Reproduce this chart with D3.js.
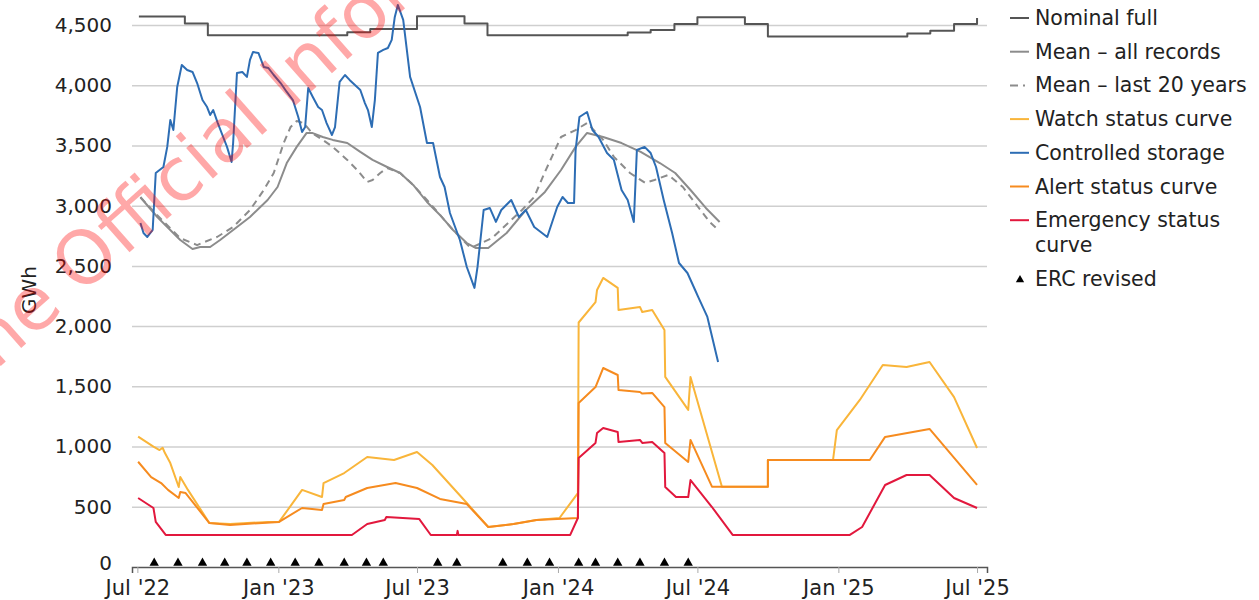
<!DOCTYPE html>
<html>
<head>
<meta charset="utf-8">
<script src="https://cdn.jsdelivr.net/npm/d3@7"></script>
<style>
  body { margin: 0; background: #fff; }
  svg { font-family: "DejaVu Sans", sans-serif; }
</style>
</head>
<body>
<div class="chart"></div>
<script>
// data (GWh)
const nominalFull = [
  ["2022-07-03", 4570], ["2022-09-01", 4512], ["2022-10-01", 4415],
  ["2023-04-01", 4440], ["2023-05-01", 4466], ["2023-07-01", 4572],
  ["2023-09-01", 4512], ["2023-10-01", 4415], ["2024-04-01", 4437],
  ["2024-05-01", 4458], ["2024-06-01", 4508], ["2024-07-01", 4565],
  ["2024-09-01", 4508], ["2024-10-01", 4405], ["2025-04-01", 4430],
  ["2025-05-01", 4452], ["2025-06-01", 4508], ["2025-07-01", 4558]
];

const meanAll = [
  ["2022-07-05", 3070], ["2022-07-27", 2906], ["2022-08-09", 2823], ["2022-08-26", 2715],
  ["2022-09-11", 2640], ["2022-09-21", 2657], ["2022-10-04", 2657], ["2022-10-17", 2715],
  ["2022-11-03", 2798], ["2022-11-25", 2906], ["2022-12-18", 3047], ["2022-12-31", 3155],
  ["2023-01-12", 3354], ["2023-01-25", 3488], ["2023-02-07", 3604], ["2023-02-14", 3604],
  ["2023-02-28", 3570], ["2023-03-13", 3546], ["2023-04-01", 3520], ["2023-04-18", 3446],
  ["2023-05-04", 3380], ["2023-05-23", 3321], ["2023-06-09", 3271], ["2023-06-26", 3172],
  ["2023-07-14", 3031], ["2023-07-31", 2923], ["2023-08-17", 2798], ["2023-09-04", 2690],
  ["2023-09-16", 2648], ["2023-10-02", 2648], ["2023-10-26", 2773], ["2023-11-20", 2964],
  ["2023-12-15", 3114], ["2024-01-05", 3296], ["2024-01-24", 3488], ["2024-02-08", 3604],
  ["2024-02-29", 3570], ["2024-03-24", 3520], ["2024-04-18", 3446], ["2024-05-13", 3354],
  ["2024-06-02", 3271], ["2024-06-22", 3130], ["2024-07-12", 2981], ["2024-07-30", 2865]
];

const meanLast20 = [
  ["2022-07-05", 3070], ["2022-07-27", 2920], ["2022-08-26", 2730], ["2022-09-17", 2673],
  ["2022-10-13", 2740], ["2022-11-03", 2823], ["2022-11-25", 2964], ["2022-12-13", 3130],
  ["2022-12-26", 3271], ["2023-01-08", 3520], ["2023-01-17", 3653], ["2023-01-25", 3703],
  ["2023-02-03", 3686], ["2023-02-14", 3604], ["2023-02-28", 3546], ["2023-03-13", 3488],
  ["2023-04-01", 3380], ["2023-04-14", 3296], ["2023-04-27", 3197], ["2023-05-04", 3213],
  ["2023-05-14", 3271], ["2023-05-23", 3313], ["2023-06-09", 3271], ["2023-06-26", 3172],
  ["2023-07-14", 3047], ["2023-07-31", 2923], ["2023-08-17", 2798], ["2023-09-09", 2648],
  ["2023-10-07", 2731], ["2023-11-15", 2964], ["2023-12-01", 3072], ["2023-12-15", 3280],
  ["2024-01-05", 3570], ["2024-01-24", 3628], ["2024-02-08", 3686], ["2024-02-29", 3546],
  ["2024-03-14", 3405], ["2024-04-04", 3271], ["2024-04-24", 3189], ["2024-05-06", 3213],
  ["2024-05-24", 3255], ["2024-06-12", 3155], ["2024-07-02", 2989], ["2024-07-17", 2865],
  ["2024-07-27", 2806]
];

const controlledStorage = [
  ["2022-07-05", 2856], ["2022-07-09", 2773], ["2022-07-14", 2740], ["2022-07-21", 2798],
  ["2022-07-25", 3271], ["2022-08-04", 3321], ["2022-08-09", 3488], ["2022-08-13", 3711],
  ["2022-08-17", 3628], ["2022-08-22", 3985], ["2022-08-28", 4168], ["2022-09-04", 4126],
  ["2022-09-11", 4110], ["2022-09-17", 4018], ["2022-09-24", 3877], ["2022-09-30", 3819],
  ["2022-10-04", 3753], ["2022-10-08", 3794], ["2022-10-14", 3686], ["2022-10-21", 3570],
  ["2022-10-26", 3488], ["2022-11-01", 3363], ["2022-11-03", 3520], ["2022-11-08", 4102],
  ["2022-11-15", 4110], ["2022-11-21", 4069], ["2022-11-25", 4210], ["2022-11-29", 4276],
  ["2022-12-06", 4268], ["2022-12-13", 4152], ["2022-12-19", 4143], ["2022-12-26", 4085],
  ["2023-01-04", 4018], ["2023-01-12", 3944], ["2023-01-20", 3877], ["2023-01-27", 3736],
  ["2023-02-01", 3612], ["2023-02-05", 3653], ["2023-02-09", 3977], ["2023-02-15", 3902],
  ["2023-02-22", 3819], ["2023-02-27", 3794], ["2023-03-05", 3686], ["2023-03-12", 3587],
  ["2023-03-16", 3653], ["2023-03-22", 4027], ["2023-03-29", 4085], ["2023-04-04", 4044],
  ["2023-04-11", 4002], ["2023-04-18", 3960], ["2023-04-24", 3852], ["2023-04-28", 3794],
  ["2023-05-03", 3653], ["2023-05-07", 3877], ["2023-05-11", 4268], ["2023-05-18", 4293],
  ["2023-05-24", 4309], ["2023-05-29", 4376], ["2023-06-02", 4567], ["2023-06-06", 4666],
  ["2023-06-13", 4542], ["2023-06-22", 4069], ["2023-07-05", 3819], ["2023-07-14", 3520],
  ["2023-07-22", 3520], ["2023-07-31", 3238], ["2023-08-06", 3155], ["2023-08-13", 2939],
  ["2023-08-26", 2715], ["2023-09-04", 2491], ["2023-09-14", 2317], ["2023-09-18", 2491],
  ["2023-09-26", 2964], ["2023-10-04", 2981], ["2023-10-12", 2865], ["2023-10-19", 2964],
  ["2023-11-01", 3047], ["2023-11-11", 2906], ["2023-11-20", 2964], ["2023-12-01", 2823],
  ["2023-12-18", 2740], ["2023-12-31", 2989], ["2024-01-07", 3072], ["2024-01-14", 3022],
  ["2024-01-22", 3022], ["2024-01-24", 3462], ["2024-01-29", 3736], ["2024-02-08", 3778],
  ["2024-02-15", 3628], ["2024-02-23", 3570], ["2024-03-05", 3437], ["2024-03-14", 3380],
  ["2024-03-24", 3130], ["2024-04-01", 3047], ["2024-04-09", 2865], ["2024-04-13", 3462],
  ["2024-04-23", 3488], ["2024-05-01", 3437], ["2024-05-08", 3321], ["2024-05-18", 3047],
  ["2024-05-29", 2773], ["2024-06-07", 2524], ["2024-06-18", 2441], ["2024-06-28", 2300],
  ["2024-07-02", 2242], ["2024-07-14", 2076], ["2024-07-28", 1702]
];

const watchCurve = [
  ["2022-07-02", 1082], ["2022-07-22", 999], ["2022-07-30", 971], ["2022-08-03", 990],
  ["2022-08-06", 946], ["2022-08-13", 863], ["2022-08-24", 664], ["2022-08-26", 747],
  ["2022-09-05", 640], ["2022-10-03", 365], ["2022-10-30", 357], ["2022-12-19", 374],
  ["2023-01-02", 374], ["2023-02-01", 640], ["2023-02-27", 581], ["2023-03-01", 697],
  ["2023-03-28", 780], ["2023-04-27", 913], ["2023-06-01", 888], ["2023-07-01", 955],
  ["2023-07-21", 847], ["2023-09-04", 531], ["2023-10-02", 332], ["2023-11-04", 357],
  ["2023-12-04", 390], ["2024-01-03", 407], ["2024-01-27", 614], ["2024-01-28", 2030],
  ["2024-02-19", 2200], ["2024-02-21", 2300], ["2024-02-29", 2400], ["2024-03-19", 2317],
  ["2024-03-20", 2134], ["2024-04-17", 2159], ["2024-04-20", 2117], ["2024-05-03", 2134],
  ["2024-05-19", 1968], ["2024-05-20", 1578], ["2024-06-19", 1304], ["2024-06-22", 1578],
  ["2024-08-02", 667], ["2024-10-01", 667], ["2024-10-01", 888], ["2024-12-25", 888],
  ["2024-12-30", 1137], ["2025-01-29", 1387], ["2025-02-28", 1677], ["2025-03-31", 1661],
  ["2025-04-30", 1702], ["2025-06-01", 1411], ["2025-07-01", 988]
];

const alertCurve = [
  ["2022-07-02", 874], ["2022-07-19", 747], ["2022-08-01", 697], ["2022-08-10", 640],
  ["2022-08-24", 573], ["2022-08-26", 623], ["2022-09-02", 614], ["2022-10-03", 365],
  ["2022-10-30", 349], ["2023-01-02", 374], ["2023-02-01", 490], ["2023-02-27", 473],
  ["2023-03-01", 523], ["2023-03-28", 556], ["2023-03-30", 581], ["2023-04-27", 656],
  ["2023-06-03", 697], ["2023-07-01", 656], ["2023-07-31", 565], ["2023-09-04", 523],
  ["2023-10-02", 332], ["2023-11-04", 357], ["2023-12-04", 390], ["2024-01-27", 407],
  ["2024-01-28", 1362], ["2024-02-19", 1494], ["2024-02-29", 1652], ["2024-03-19", 1594],
  ["2024-03-20", 1470], ["2024-04-17", 1453], ["2024-04-20", 1440], ["2024-05-03", 1445],
  ["2024-05-19", 1328], ["2024-05-20", 1030], ["2024-06-19", 872], ["2024-06-22", 1055],
  ["2024-07-20", 667], ["2024-10-01", 667], ["2024-10-01", 888], ["2025-02-11", 888],
  ["2025-03-03", 1080], ["2025-04-30", 1146], ["2025-07-01", 681]
];

const emergencyCurve = [
  ["2022-07-02", 573], ["2022-07-22", 490], ["2022-07-25", 374], ["2022-08-07", 266],
  ["2023-04-07", 266], ["2023-04-27", 357], ["2023-05-20", 390], ["2023-05-22", 415],
  ["2023-07-04", 398], ["2023-07-19", 266], ["2023-08-22", 266], ["2023-08-23", 300],
  ["2023-08-24", 266], ["2024-01-17", 266], ["2024-01-27", 407], ["2024-01-28", 905],
  ["2024-02-19", 1030], ["2024-02-21", 1113], ["2024-02-29", 1154], ["2024-03-19", 1121],
  ["2024-03-20", 1038], ["2024-04-17", 1055], ["2024-04-20", 1030], ["2024-05-03", 1038],
  ["2024-05-19", 947], ["2024-05-20", 664], ["2024-06-03", 581], ["2024-06-19", 581],
  ["2024-06-22", 722], ["2024-07-20", 498], ["2024-08-16", 266], ["2025-01-16", 266],
  ["2025-02-01", 332], ["2025-03-03", 681], ["2025-03-31", 764], ["2025-04-30", 764],
  ["2025-06-01", 573], ["2025-07-01", 490]
];

const ercRevised = [
  "2022-07-23", "2022-08-23", "2022-09-24", "2022-10-23", "2022-11-21", "2022-12-22",
  "2023-01-23", "2023-02-23", "2023-03-28", "2023-04-26", "2023-05-18", "2023-07-28",
  "2023-08-22", "2023-10-21", "2023-11-22", "2023-12-21", "2024-01-28", "2024-02-19",
  "2024-03-19", "2024-04-17", "2024-05-19", "2024-06-19"
];

const xTicks = ["2022-07-01", "2023-01-01", "2023-07-01", "2024-01-01", "2024-07-01", "2025-01-01", "2025-07-01"];
const yTicks = [0, 500, 1000, 1500, 2000, 2500, 3000, 3500, 4000, 4500];

const legendItems = [
  { label: ["Nominal full"], color: "#555", kind: "line" },
  { label: ["Mean \u2013 all records"], color: "#8c8c8c", kind: "line" },
  { label: ["Mean \u2013 last 20 years"], color: "#8c8c8c", kind: "dash" },
  { label: ["Watch status curve"], color: "#f9b53a", kind: "line" },
  { label: ["Controlled storage"], color: "#2d6db4", kind: "line" },
  { label: ["Alert status curve"], color: "#f68b1f", kind: "line" },
  { label: ["Emergency status", "curve"], color: "#e2183d", kind: "line" },
  { label: ["ERC revised"], color: "#000", kind: "tri" }
];

const width = 1259;
const height = 600;
const parse = d3.timeParse("%Y-%m-%d");

const svg = d3
  .select(".chart")
  .append("svg")
  .attr("width", width)
  .attr("height", height);

const x = d3
  .scaleTime()
  .domain([parse("2022-06-24"), parse("2025-07-14")])
  .range([132, 987]);

const y = d3.scaleLinear().domain([0, 4500]).range([567, 25]);

// gridlines
svg
  .append("g")
  .attr("transform", "translate(132,0)")
  .call(d3.axisLeft(y).tickValues(yTicks.slice(1)).tickSize(-855).tickFormat(""))
  .call(g => g.select(".domain").remove())
  .call(g => g.selectAll("line").attr("stroke", "#cfcfcf").attr("stroke-width", 1.5));

// y labels
svg
  .append("g")
  .attr("transform", "translate(112,0)")
  .call(d3.axisLeft(y).tickValues(yTicks).tickSize(0).tickPadding(0).tickFormat(d3.format(",")))
  .call(g => g.select(".domain").remove())
  .call(g => g.selectAll("text").attr("font-size", 20).attr("fill", "#222").attr("font-family", "DejaVu Sans"))
  .call(g => g.selectAll("text").filter(d => d === 0).attr("dy", "0.1em"));

svg
  .append("text")
  .attr("transform", "translate(36,290) rotate(-90)")
  .attr("text-anchor", "middle")
  .attr("font-size", 20)
  .attr("fill", "#222")
  .text("GWh");

// x axis
const monthLabel = d => (d.getMonth() === 0 ? "Jan" : "Jul") + " '" + d3.timeFormat("%y")(d);
svg
  .append("g")
  .attr("transform", "translate(0,567)")
  .call(d3.axisBottom(x).tickValues(xTicks.map(parse)).tickSize(6).tickPadding(7).tickFormat(monthLabel))
  .call(g => g.select(".domain").attr("stroke", "#555").attr("stroke-width", 1.5))
  .call(g => g.selectAll(".tick line").attr("stroke", "#aaa"))
  .call(g => g.selectAll("text").attr("font-size", 21).attr("fill", "#222").attr("font-family", "DejaVu Sans"));

const line = d3
  .line()
  .x(d => x(parse(d[0])))
  .y(d => y(d[1]));

const stepLine = d3
  .line()
  .x(d => x(parse(d[0])))
  .y(d => y(d[1]))
  .curve(d3.curveStepAfter);

const drawSeries = (data, color, gen, dash) => {
  svg
    .append("path")
    .datum(data)
    .attr("fill", "none")
    .attr("stroke", color)
    .attr("stroke-width", 2)
    .attr("stroke-linejoin", "round")
    .attr("stroke-dasharray", dash || null)
    .attr("d", gen);
};

drawSeries(nominalFull, "#555", stepLine);
drawSeries(meanAll, "#8c8c8c", line);
drawSeries(meanLast20, "#8c8c8c", line, "7,5");
drawSeries(watchCurve, "#f9b53a", line);
drawSeries(alertCurve, "#f68b1f", line);
drawSeries(emergencyCurve, "#e2183d", line);
drawSeries(controlledStorage, "#2d6db4", line);

// ERC revised markers
svg
  .selectAll(".erc")
  .data(ercRevised)
  .enter()
  .append("path")
  .attr("class", "erc")
  .attr("d", d3.symbol().type(d3.symbolTriangle).size(38))
  .attr("transform", d => `translate(${x(parse(d))},${y(0) - 4})`)
  .attr("fill", "#000");

// legend
const legend = svg.append("g").attr("transform", "translate(1010,0)");
let rowY = 25;
legendItems.forEach(item => {
  const g = legend.append("g").attr("transform", `translate(0,${rowY})`);
  if (item.kind === "tri") {
    g.append("path")
      .attr("d", d3.symbol().type(d3.symbolTriangle).size(30))
      .attr("transform", "translate(10,-6)")
      .attr("fill", "#000");
  } else {
    g.append("line")
      .attr("x1", 0)
      .attr("x2", 19)
      .attr("y1", -7)
      .attr("y2", -7)
      .attr("stroke", item.color)
      .attr("stroke-width", 2)
      .attr("stroke-dasharray", item.kind === "dash" ? "8,5,2,5" : null);
  }
  item.label.forEach((t, i) => {
    g.append("text")
      .attr("x", 25)
      .attr("y", i * 25)
      .attr("font-size", 20.5)
      .attr("fill", "#222")
      .text(t);
  });
  rowY += 33.7 + (item.label.length - 1) * 25;
});

// watermark
const wm = svg
  .append("g")
  .attr("transform", "translate(80,296) rotate(-41.5)")
  .attr("font-size", 74)
  .attr("fill", "#f00")
  .attr("fill-opacity", 0.34);
wm.append("text").attr("x", -20).attr("text-anchor", "end").text("Released under the");
wm.append("text").attr("x", 0).text("Official Information Act");
</script>
</body>
</html>
